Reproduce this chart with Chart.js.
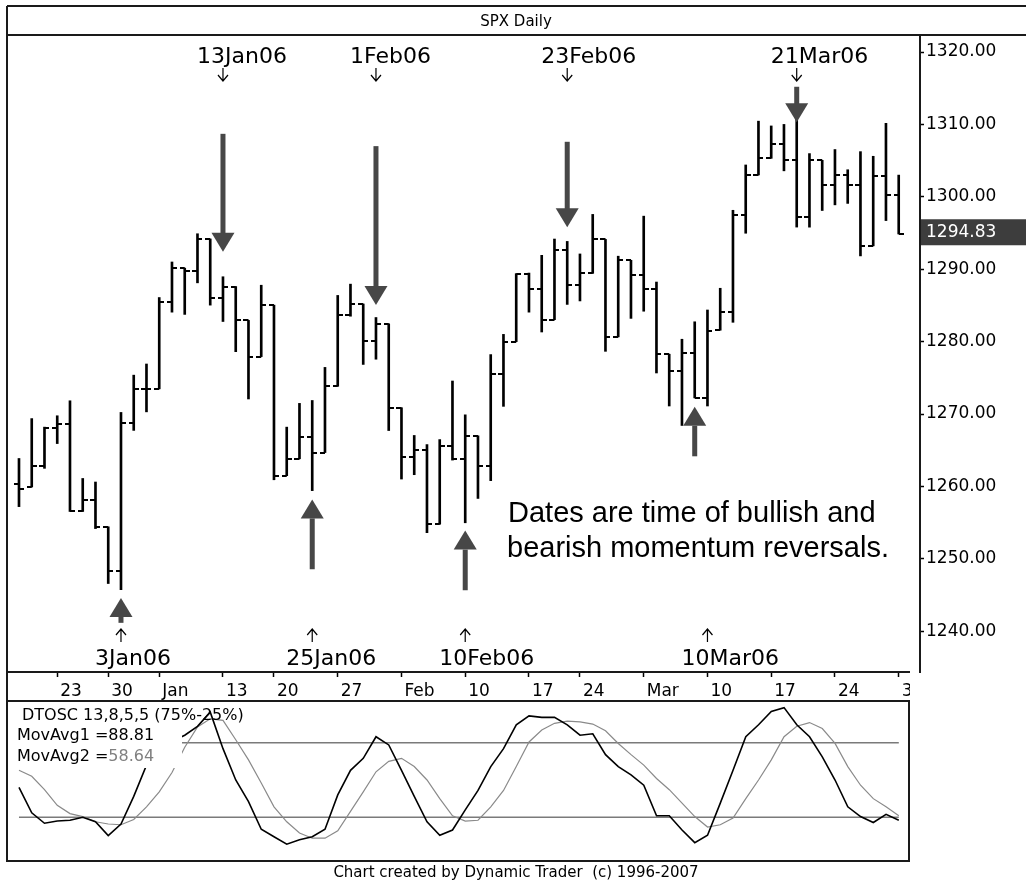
<!DOCTYPE html>
<html>
<head>
<meta charset="utf-8">
<title>SPX Daily</title>
<script src="https://cdn.jsdelivr.net/npm/chart.js@4.4.1/dist/chart.umd.min.js"></script>
<style>
    body { margin: 0; background: #fff; }
    #quadro { position: relative; width: 1026px; height: 881px; overflow: hidden; }
    canvas { position: absolute; left: 0; }
    #precos { top: 0; width: 1026px; height: 705px; }
    #osc { top: 699px; width: 1026px; height: 182px; }
</style>
</head>
<body>
<div id="quadro">
    <canvas id="precos" width="1026" height="705"></canvas>
    <canvas id="osc" width="1026" height="182"></canvas>
</div>
<script>
/*Dados do gráfico*/
var datas = ['20Dec05', '21Dec05', '22Dec05', '23Dec05', '27Dec05', '28Dec05', '29Dec05', '30Dec05',
    '3Jan06', '4Jan06', '5Jan06', '6Jan06', '9Jan06', '10Jan06', '11Jan06', '12Jan06', '13Jan06', '17Jan06',
    '18Jan06', '19Jan06', '20Jan06', '23Jan06', '24Jan06', '25Jan06', '26Jan06', '27Jan06', '30Jan06', '31Jan06',
    '1Feb06', '2Feb06', '3Feb06', '6Feb06', '7Feb06', '8Feb06', '9Feb06', '10Feb06', '13Feb06', '14Feb06',
    '15Feb06', '16Feb06', '17Feb06', '21Feb06', '22Feb06', '23Feb06', '24Feb06', '27Feb06', '28Feb06',
    '1Mar06', '2Mar06', '3Mar06', '6Mar06', '7Mar06', '8Mar06', '9Mar06', '10Mar06', '13Mar06', '14Mar06',
    '15Mar06', '16Mar06', '17Mar06', '20Mar06', '21Mar06', '22Mar06', '23Mar06', '24Mar06', '27Mar06',
    '28Mar06', '29Mar06', '30Mar06', '31Mar06'];

var aberturas = [1260.3, 1259.92, 1262.79, 1268.12, 1268.66, 1256.54, 1258.17, 1254.42,
    1248.29, 1268.80, 1273.46, 1273.48, 1285.45, 1290.15, 1289.72, 1294.18, 1286.06, 1287.61, 1282.93, 1277.93,
    1285.04, 1261.49, 1263.82, 1266.86, 1264.68, 1273.83, 1283.72, 1285.20,
    1280.08, 1282.46, 1270.84, 1264.03, 1265.02, 1254.78, 1265.65, 1263.82, 1266.99, 1262.86, 1275.53, 1280.00,
    1289.38, 1287.24, 1283.03, 1292.67, 1287.79, 1289.43, 1294.12,
    1280.66, 1291.24, 1289.14, 1287.23, 1278.26, 1275.88, 1278.47, 1272.23, 1281.58, 1284.13, 1297.48, 1303.02,
    1305.33, 1307.25, 1305.08, 1297.23, 1305.04, 1301.67, 1302.95, 1301.61, 1293.23, 1302.89, 1300.25];

var maximas = [1263.86, 1269.37, 1268.19, 1269.76, 1271.83, 1261.10, 1260.61, 1254.42,
    1270.22, 1275.37, 1276.91, 1286.09, 1291.00, 1290.15, 1294.90, 1294.18, 1288.96, 1287.61, 1282.93, 1287.79,
    1285.04, 1268.19, 1271.47, 1271.87, 1276.44, 1286.38, 1287.94, 1285.20,
    1283.33, 1282.46, 1270.87, 1267.04, 1265.78, 1266.47, 1274.56, 1269.89, 1266.99, 1278.21, 1281.00, 1289.39,
    1289.47, 1291.92, 1294.17, 1293.84, 1292.11, 1297.57, 1294.12,
    1291.80, 1291.24, 1297.33, 1288.23, 1278.26, 1280.33, 1282.74, 1284.37, 1287.37, 1298.14, 1304.40, 1310.45,
    1309.79, 1310.00, 1310.88, 1305.97, 1305.04, 1306.53, 1303.74, 1306.24, 1305.60, 1310.15, 1303.00];

var minimas = [1257.21, 1259.92, 1262.50, 1265.92, 1256.54, 1256.54, 1254.18, 1246.59,
    1245.74, 1267.74, 1270.30, 1273.48, 1284.07, 1283.76, 1288.12, 1285.04, 1282.78, 1278.61, 1272.08, 1277.93,
    1260.92, 1261.49, 1263.82, 1259.42, 1264.68, 1273.83, 1283.51, 1276.85,
    1277.57, 1267.72, 1261.02, 1261.62, 1253.61, 1254.78, 1263.64, 1254.98, 1258.34, 1260.80, 1271.06, 1280.00,
    1284.07, 1281.33, 1283.03, 1285.14, 1285.62, 1289.43, 1278.66,
    1280.66, 1283.21, 1284.20, 1275.67, 1271.11, 1268.42, 1272.23, 1271.11, 1281.58, 1282.67, 1294.97, 1303.02,
    1305.32, 1303.59, 1295.82, 1295.81, 1298.11, 1298.89, 1299.09, 1291.84, 1293.23, 1296.72, 1294.87];

var fechamentos = [1259.7, 1262.79, 1268.12, 1268.66, 1256.54, 1258.17, 1254.42, 1248.29,
    1268.80, 1273.46, 1273.48, 1285.45, 1290.15, 1289.69, 1294.18, 1286.06, 1287.61, 1282.93, 1277.93, 1285.04,
    1261.49, 1263.82, 1266.86, 1264.68, 1273.83, 1283.72, 1285.19, 1280.08,
    1282.46, 1270.84, 1264.03, 1265.02, 1254.78, 1265.65, 1263.78, 1266.99, 1262.86, 1275.53, 1280.00, 1289.38,
    1287.24, 1283.03, 1292.67, 1287.79, 1289.43, 1294.12, 1280.66,
    1291.24, 1289.14, 1287.23, 1278.26, 1275.88, 1278.47, 1272.23, 1281.42, 1284.13, 1297.48, 1303.02, 1305.33,
    1307.25, 1305.08, 1297.23, 1305.04, 1301.67, 1302.95, 1301.61, 1293.23, 1302.89, 1300.25, 1294.83];

/*DTOSC: linha rápida (preta) e lenta (cinza)*/
var oscRapido = [45, 28, 21, 22.5, 23, 25, 22, 12.7,
    20.5, 39, 60, 70, 76, 80, 86, 95.5, 71, 50, 35.5, 17, 12, 7, 10, 12, 17, 40, 56.5, 64.5,
    79, 73.5, 56.5, 39, 22, 13, 16.5, 30, 43, 59, 71, 87, 93, 92, 92, 87, 80, 81, 67,
    59, 53.5, 46.5, 26, 26, 16.5, 8, 13, 34.5, 56.5, 79, 87, 96, 98.5, 87, 79, 65.5, 50, 32, 25.5, 21.5, 27, 23];

var oscLento = [56.5, 52.5, 43.5, 33, 27.5, 25.5, 22, 20.5,
    20, 23.5, 32, 42, 55, 72, 85.5, 91, 90, 77, 63.5, 48, 32, 22, 14.5, 11, 11, 16, 29, 42,
    55.5, 62.5, 64.5, 59, 50, 37.5, 26, 22.5, 23, 32, 43, 59, 75.5, 83.5, 88, 89.5, 89, 87.5, 83,
    74.5, 67, 60, 51, 43.5, 34.5, 25.5, 18.5, 20, 24.5, 37.5, 50, 63.5, 79, 86, 88.5, 84.5, 74.5, 59, 46.5, 37.5, 32, 26];

var niveisOsc = [75, 25];

/*Eixos*/
var ticksDatas = [3, 7, 11, 16, 20, 25, 30, 35, 40, 44, 49, 54, 59, 64, 69];
var rotulosDatas = ['23', '30', 'Jan', '13', '20', '27', 'Feb', '10', '17', '24', 'Mar', '10', '17', '24', '31'];
var ticksPreco = [1240, 1250, 1260, 1270, 1280, 1290, 1300, 1310, 1320];

/*Reversões de momentum*/
var topoIndices = [16, 28, 43, 61];
var topoRotulos = ['13Jan06', '1Feb06', '23Feb06', '21Mar06'];
var topoPonta = [1292.4, 1285.05, 1295.8, 1310.3];
var topoCauda = [1308.7, 1307.0, 1307.6, 1315.2];

var fundoIndices = [8, 23, 35, 54];
var fundoRotulos = ['3Jan06', '25Jan06', '10Feb06', '10Mar06'];
var fundoSetaIndices = [8, 23, 35, 53];
var fundoPonta = [1244.6, 1258.2, 1253.9, 1271.0];
var fundoCauda = [1241.3, 1248.7, 1245.8, 1264.3];

var textoNota = ['Dates are time of bullish and', 'bearish momentum reversals.'];

Chart.defaults.font.family = "'DejaVu Sans'";
Chart.defaults.color = '#000';

/*Funções Gerais*/
function MontarPontos(valores) {
    var pontos = [];
    for (var i = 0; i < valores.length; i++) {
        pontos.push({ x: i, y: valores[i] });
    }
    return pontos;
}

function MontarFaixas(baixo, alto) {
    var faixas = [];
    for (var i = 0; i < alto.length; i++) {
        faixas.push({ x: i, y: [baixo[i], alto[i]] });
    }
    return faixas;
}

function MontarNivel(valor) {
    return [{ x: 0, y: valor }, { x: datas.length - 1, y: valor }];
}

/*Traço de abertura (esquerda) ou fechamento (direita)*/
function CriarTraco(lado) {
    var c = document.createElement('canvas');
    c.width = 10;
    c.height = 2;
    var g = c.getContext('2d');
    g.fillStyle = '#000';
    if (lado == 'esquerda') g.fillRect(0, 0, 5, 2);
    else g.fillRect(5, 0, 5, 2);
    return c;
}

function DesenharSeta(ctx, x, yPonta, yCauda) {
    var dir = yCauda < yPonta ? 1 : -1;
    var yBase = yPonta - dir * 19;
    ctx.fillStyle = '#474747';
    ctx.fillRect(x - 2.5, Math.min(yCauda, yBase), 5, Math.abs(yBase - yCauda) + 1);
    ctx.beginPath();
    ctx.moveTo(x, yPonta);
    ctx.lineTo(x - 11.5, yBase);
    ctx.lineTo(x + 11.5, yBase);
    ctx.closePath();
    ctx.fill();
}

function DesenharSetinha(ctx, x, yIni, yFim) {
    var d = yFim > yIni ? -1 : 1;
    ctx.strokeStyle = '#000';
    ctx.lineWidth = 1.2;
    ctx.beginPath();
    ctx.moveTo(x, yIni);
    ctx.lineTo(x, yFim);
    ctx.moveTo(x - 5, yFim + d * 6);
    ctx.lineTo(x, yFim);
    ctx.lineTo(x + 5, yFim + d * 6);
    ctx.stroke();
}

/*Plugin com moldura, título e anotações*/
var pluginAnotacoes = {
    id: 'anotacoes',
    afterDraw: function (grafico) {
        var ctx = grafico.ctx;
        var area = grafico.chartArea;
        var eixoX = grafico.scales.x;
        var eixoY = grafico.scales.y;
        var i, x;
        ctx.save();

        ctx.strokeStyle = '#1a1a1a';
        ctx.lineWidth = 2;
        ctx.beginPath();
        ctx.moveTo(7, 6); ctx.lineTo(1026, 6);
        ctx.moveTo(7, area.top); ctx.lineTo(1026, area.top);
        ctx.moveTo(7, 6); ctx.lineTo(7, 705);
        ctx.stroke();

        ctx.fillStyle = '#000';
        ctx.font = "15px 'DejaVu Sans'";
        ctx.textAlign = 'center';
        ctx.textBaseline = 'alphabetic';
        ctx.fillText('SPX Daily', 516, 26);

        /*corte do eixo de datas*/
        ctx.fillStyle = '#fff';
        ctx.fillRect(910, area.bottom - 1.5, 9, 2.5);
        ctx.fillRect(910, area.bottom + 1, 30, 40);

        /*último fechamento*/
        var ultimo = fechamentos[fechamentos.length - 1];
        var yFech = eixoY.getPixelForValue(ultimo);
        ctx.fillStyle = '#3d3d3d';
        ctx.fillRect(area.right + 1, yFech - 15, 106, 26);
        ctx.fillStyle = '#fff';
        ctx.font = "17px 'DejaVu Sans'";
        ctx.textAlign = 'left';
        ctx.textBaseline = 'middle';
        ctx.fillText(ultimo.toFixed(2), area.right + 6, yFech - 2);

        /*setas grandes*/
        for (i = 0; i < topoIndices.length; i++) {
            DesenharSeta(ctx, eixoX.getPixelForValue(topoIndices[i]), eixoY.getPixelForValue(topoPonta[i]), eixoY.getPixelForValue(topoCauda[i]));
        }
        for (i = 0; i < fundoSetaIndices.length; i++) {
            DesenharSeta(ctx, eixoX.getPixelForValue(fundoSetaIndices[i]), eixoY.getPixelForValue(fundoPonta[i]), eixoY.getPixelForValue(fundoCauda[i]));
        }

        /*datas das reversões*/
        ctx.fillStyle = '#000';
        ctx.font = "22px 'DejaVu Sans'";
        ctx.textAlign = 'left';
        ctx.textBaseline = 'alphabetic';
        for (i = 0; i < topoIndices.length; i++) {
            x = eixoX.getPixelForValue(topoIndices[i]);
            ctx.fillText(topoRotulos[i], x - 26, area.top + 28);
            DesenharSetinha(ctx, x, area.top + 33, area.top + 46);
        }
        for (i = 0; i < fundoIndices.length; i++) {
            x = eixoX.getPixelForValue(fundoIndices[i]);
            ctx.fillStyle = '#000';
            ctx.fillText(fundoRotulos[i], x - 26, area.bottom - 7);
            DesenharSetinha(ctx, x, area.bottom - 30, area.bottom - 43);
        }

        ctx.fillStyle = '#000';
        ctx.font = "29px 'Liberation Sans'";
        ctx.fillText(textoNota[0], 508, 522);
        ctx.fillText(textoNota[1], 507, 557);
        ctx.restore();
    }
};

/*Gráfico de barras OHLC*/
var graficoPrecos = new Chart(document.getElementById('precos'), {
    type: 'bar',
    data: {
        datasets: [{
            type: 'line',
            label: 'Abertura',
            data: MontarPontos(aberturas),
            showLine: false,
            pointStyle: CriarTraco('esquerda'),
            pointRadius: 3,
            pointHoverRadius: 3
        }, {
            type: 'line',
            label: 'Fechamento',
            data: MontarPontos(fechamentos),
            showLine: false,
            pointStyle: CriarTraco('direita'),
            pointRadius: 3,
            pointHoverRadius: 3
        }, {
            type: 'bar',
            label: 'Máxima / Mínima',
            data: MontarFaixas(minimas, maximas),
            backgroundColor: '#000',
            borderWidth: 0,
            barThickness: 2
        }]
    },
    options: {
        responsive: false,
        animation: false,
        events: [],
        layout: { padding: { left: 7, top: 35, right: 0, bottom: 0 } },
        plugins: {
            legend: { display: false },
            tooltip: { enabled: false },
            title: { display: false }
        },
        scales: {
            x: {
                type: 'linear',
                min: -0.94,
                max: 70.67,
                offset: false,
                afterBuildTicks: function (eixo) {
                    eixo.ticks = ticksDatas.map(function (v) { return { value: v }; });
                },
                afterFit: function (eixo) {
                    eixo.height = 33;
                    eixo.paddingLeft = 0;
                    eixo.paddingRight = 0;
                },
                ticks: {
                    autoSkip: false,
                    maxRotation: 0,
                    align: 'start',
                    labelOffset: 3,
                    padding: 4,
                    color: '#000',
                    font: { size: 17 },
                    callback: function (valor, indice) {
                        return rotulosDatas[indice];
                    }
                },
                grid: { drawOnChartArea: false, offset: false, tickLength: 5, tickColor: '#000', tickWidth: 1.5 },
                border: { color: '#1a1a1a', width: 2 }
            },
            y: {
                position: 'right',
                min: 1234.37,
                max: 1322.35,
                afterBuildTicks: function (eixo) {
                    eixo.ticks = ticksPreco.map(function (v) { return { value: v }; });
                },
                afterFit: function (eixo) {
                    eixo.width = 106;
                    eixo.paddingTop = 0;
                    eixo.paddingBottom = 0;
                },
                ticks: {
                    padding: 2,
                    color: '#000',
                    font: { size: 17 },
                    callback: function (valor) {
                        return valor.toFixed(2);
                    }
                },
                grid: { drawOnChartArea: false, tickLength: 4, tickColor: '#000', tickWidth: 1.5 },
                border: { color: '#1a1a1a', width: 2 }
            }
        }
    },
    plugins: [pluginAnotacoes]
});

/*Plugin do painel do oscilador*/
var pluginOsc = {
    id: 'painelOsc',
    afterDraw: function (grafico) {
        var ctx = grafico.ctx;
        var area = grafico.chartArea;
        ctx.save();

        ctx.fillStyle = '#fff';
        ctx.fillRect(area.left + 1, area.top + 1, 182 - area.left - 1, 66);

        ctx.strokeStyle = '#1a1a1a';
        ctx.lineWidth = 2;
        ctx.strokeRect(area.left, area.top, area.right - area.left, area.bottom - area.top);

        ctx.fillStyle = '#000';
        ctx.font = "16px 'DejaVu Sans'";
        ctx.textAlign = 'left';
        ctx.textBaseline = 'alphabetic';
        ctx.fillText('DTOSC 13,8,5,5 (75%-25%)', 22, area.top + 19);

        var r1 = 'MovAvg1 =';
        var r2 = 'MovAvg2 =';
        ctx.fillText(r1, 17, area.top + 39);
        ctx.fillText('88.81', 17 + ctx.measureText(r1).width, area.top + 39);
        ctx.fillText(r2, 17, area.top + 60);
        ctx.fillStyle = '#808080';
        ctx.fillText('58.64', 17 + ctx.measureText(r2).width, area.top + 60);

        ctx.fillStyle = '#000';
        ctx.font = "15px 'DejaVu Sans'";
        ctx.textAlign = 'center';
        ctx.fillText('Chart created by Dynamic Trader  (c) 1996-2007', 516, area.bottom + 16);
        ctx.restore();
    }
};

var graficoOsc = new Chart(document.getElementById('osc'), {
    type: 'line',
    data: {
        datasets: [{
            label: 'MovAvg1',
            data: MontarPontos(oscRapido),
            borderColor: '#000',
            borderWidth: 1.6
        }, {
            label: 'MovAvg2',
            data: MontarPontos(oscLento),
            borderColor: '#8a8a8a',
            borderWidth: 1.2
        }, {
            label: '75%',
            data: MontarNivel(niveisOsc[0]),
            borderColor: '#7a7a7a',
            borderWidth: 1.5
        }, {
            label: '25%',
            data: MontarNivel(niveisOsc[1]),
            borderColor: '#7a7a7a',
            borderWidth: 1.5
        }]
    },
    options: {
        responsive: false,
        animation: false,
        events: [],
        layout: { padding: { left: 7, top: 2, right: 117, bottom: 20 } },
        elements: { point: { radius: 0 }, line: { tension: 0 } },
        plugins: {
            legend: { display: false },
            tooltip: { enabled: false }
        },
        scales: {
            x: { type: 'linear', display: false, min: -0.94, max: 69.8 },
            y: { display: false, min: -4.29, max: 102.95 }
        }
    },
    plugins: [pluginOsc]
});
</script>
</body>
</html>
